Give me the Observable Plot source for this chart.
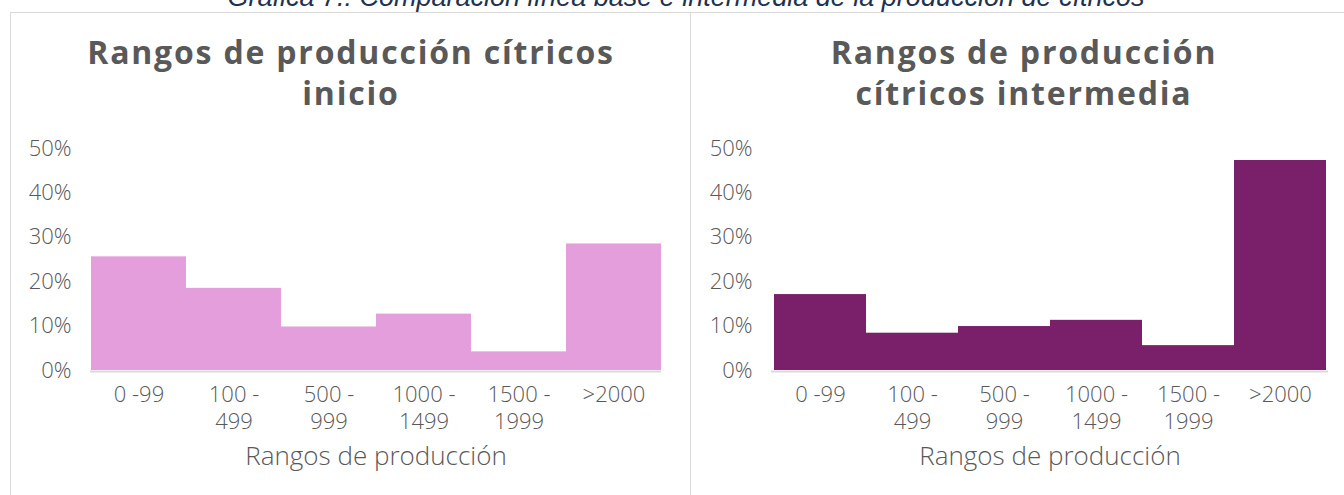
<!DOCTYPE html>
<html><head><meta charset="utf-8">
<script src="https://cdn.jsdelivr.net/npm/d3@7"></script>
<script src="https://cdn.jsdelivr.net/npm/@observablehq/plot@0.6"></script>
<style>
body{margin:0;background:#fff;width:1344px;height:495px;overflow:hidden;position:relative;font-family:"Open Sans",sans-serif;}
#caption{position:absolute;left:0;width:1372px;top:-18px;text-align:center;font:italic 27px "Liberation Sans",Arial,sans-serif;color:#1f3250;white-space:nowrap;}
.panel{position:absolute;top:12px;height:520px;border-top:1px solid #d9d9d9;border-left:1px solid #d9d9d9;}
.title{position:absolute;top:31px;text-align:center;font:bold 32px "Open Sans",sans-serif;letter-spacing:1.8px;color:#595959;line-height:41px;white-space:nowrap;}
.chart{position:absolute;top:130px;}
</style></head>
<body>
<div id="caption"></div>
<div class="panel" style="left:10px;width:680px;"></div>
<div class="panel" style="left:690px;width:700px;"></div>
<div class="title" id="t1" style="left:11px;width:680px;"></div>
<div class="title" id="t2" style="left:691px;width:666px;"></div>
<div class="chart" id="c1" style="left:10px;"></div>
<div class="chart" id="c2" style="left:691px;"></div>
<script>
const captionText = "Gráfica 7.: Comparación línea base e intermedia de la producción de cítricos";
const titleLeft = ["Rangos de producción cítricos", "inicio"];
const titleRight = ["Rangos de producción", "cítricos intermedia"];
const categories = ["0 -99", "100 - 499", "500 - 999", "1000 - 1499", "1500 - 1999", ">2000"];
const inicio = [0.256, 0.185, 0.098, 0.127, 0.042, 0.285];
const intermedia = [0.171, 0.084, 0.099, 0.113, 0.056, 0.473];
const yTicks = [0, 0.1, 0.2, 0.3, 0.4, 0.5];
const axisTitle = "Rangos de producción";

document.getElementById("caption").textContent = captionText;
function setTitle(id, lines) {
  const el = document.getElementById(id);
  lines.forEach((l, i) => {
    if (i) el.appendChild(document.createElement("br"));
    el.appendChild(document.createTextNode(l));
  });
}
setTitle("t1", titleLeft);
setTitle("t2", titleRight);

function chart(values, color, width, marginRight) {
  const data = categories.map((c, i) => ({cat: c, v: values[i]}));
  return Plot.plot({
    width, height: 360, marginTop: 18, marginBottom: 120, marginLeft: 80, marginRight,
    style: {fontFamily: "'Open Sans', sans-serif", fontSize: "22px", fontWeight: 300, color: "#595959", background: "transparent", overflow: "visible"},
    x: {domain: categories, padding: 0, axis: null, label: null},
    y: {domain: [0, 0.5], axis: null, label: null},
    marks: [
      Plot.ruleY([0], {stroke: "#d9d9d9", strokeWidth: 2, dy: 1}),
      Plot.barY(data, {x: "cat", y: "v", fill: color}),
      Plot.axisY(yTicks, {tickSize: 0, tickPadding: 19, tickFormat: d3.format(".0%"), fontSize: 22, label: null}),
      Plot.axisX({tickSize: 0, tickPadding: 13, tickFormat: d => d.replace(" - ", " -\n"), lineHeight: 1.2, fontSize: 22, label: null}),
      Plot.text([axisTitle], {text: d => d, frameAnchor: "bottom", dy: 94, fontSize: 26, fill: "#595959"})
    ]
  });
}
document.getElementById("c1").appendChild(chart(inicio, "#e49edc", 680, 29));
document.getElementById("c2").appendChild(chart(intermedia, "#7a206a", 653, 16));
</script>
</body></html>
